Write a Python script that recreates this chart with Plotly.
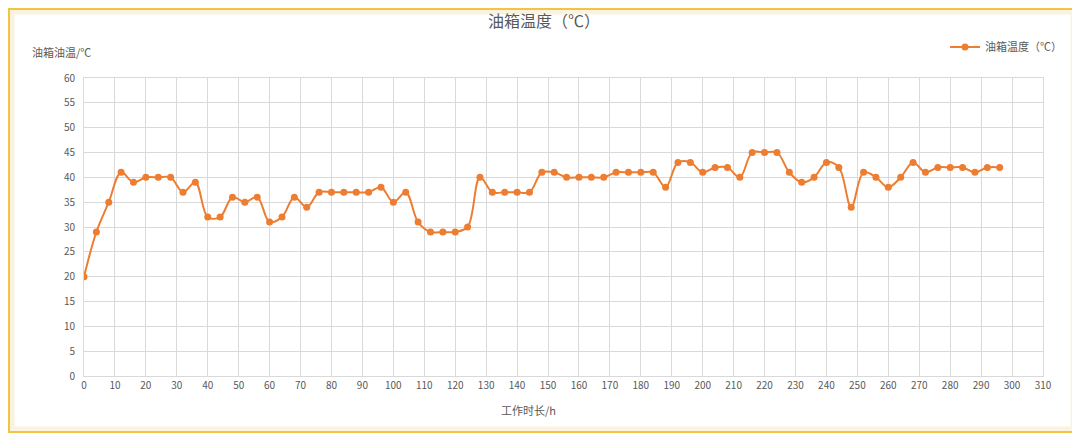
import plotly.graph_objects as go

# ---------------------------------------------------------------------
# Data: tank oil temperature over working hours
# ---------------------------------------------------------------------
hours = list(range(0, 300, 4))
oil_temp = [
    20, 29, 35, 41, 39, 40, 40, 40, 37, 39,
    32, 32, 36, 35, 36, 31, 32, 36, 34, 37,
    37, 37, 37, 37, 38, 35, 37, 31, 29, 29,
    29, 30, 40, 37, 37, 37, 37, 41, 41, 40,
    40, 40, 40, 41, 41, 41, 41, 38, 43, 43,
    41, 42, 42, 40, 45, 45, 45, 41, 39, 40,
    43, 42, 34, 41, 40, 38, 40, 43, 41, 42,
    42, 42, 41, 42, 42,
]
series_name = "油箱温度（℃）"
chart_title = "油箱温度（℃）"
y_title = "油箱油温/℃"
x_title = "工作时长/h"

# ---------------------------------------------------------------------
# Layout geometry (pixels, in page coordinates; the page body adds 8px)
# ---------------------------------------------------------------------
OFF = 8
W, H = 1080 - OFF, 434 - OFF
ML, MR, MT, MB = 84 - OFF, 37, 78 - OFF, 58
PW, PH = W - ML - MR, H - MT - MB


def px(x):
    return (x - OFF - ML) / PW


def py(y):
    return (OFF + H - MB - y) / PH


ORANGE = "#ED7D31"
TEXT = "#595959"
GRID = "#D9D9D9"
FONT = "Noto Sans CJK SC"

fig = go.Figure()
fig.add_trace(
    go.Scatter(
        x=hours,
        y=oil_temp,
        mode="lines+markers",
        name=series_name,
        line=dict(color=ORANGE, width=2, shape="spline", smoothing=1.0),
        marker=dict(color=ORANGE, size=7),
    )
)

fig.update_layout(
    width=W,
    height=H,
    margin=dict(l=ML, r=MR, t=MT, b=MB),
    paper_bgcolor="white",
    plot_bgcolor="white",
    font=dict(family=FONT, color=TEXT, size=11),
    title=dict(
        text=chart_title,
        x=0.5,
        xanchor="center",
        y=1 - (21 - OFF) / H,
        yanchor="middle",
        font=dict(size=16, color=TEXT, family=FONT),
    ),
    showlegend=True,
    legend=dict(
        x=px(1067),
        xanchor="right",
        y=py(47),
        yanchor="middle",
        font=dict(size=11, color=TEXT),
        bgcolor="rgba(0,0,0,0)",
        itemwidth=30,
    ),
)

fig.update_xaxes(
    range=[0, 310],
    dtick=10,
    tick0=0,
    showgrid=True,
    gridcolor=GRID,
    gridwidth=1,
    showline=True,
    linecolor=GRID,
    mirror=True,
    zeroline=False,
    ticks="",
    tickfont=dict(size=10, color=TEXT),
)
fig.update_yaxes(
    range=[0, 60],
    dtick=5,
    tick0=0,
    showgrid=True,
    gridcolor=GRID,
    gridwidth=1,
    showline=True,
    linecolor=GRID,
    mirror=True,
    zeroline=False,
    ticks="",
    ticklabelstandoff=6,
    tickfont=dict(size=10, color=TEXT),
)

# axis titles
fig.add_annotation(
    x=px(30), y=py(52), xref="paper", yref="paper",
    text=y_title, showarrow=False, xanchor="left", yanchor="middle",
    font=dict(size=11, color=TEXT),
)
fig.add_annotation(
    x=px(528), y=py(410), xref="paper", yref="paper",
    text=x_title, showarrow=False, xanchor="center", yanchor="middle",
    font=dict(size=11, color=TEXT),
)

# decorative frame around the picture
fig.add_shape(
    type="rect", xref="paper", yref="paper",
    x0=px(OFF + 4), x1=px(1073), y0=py(429), y1=py(OFF + 4),
    line=dict(color="#FBF3E0", width=5), fillcolor="rgba(0,0,0,0)", layer="below",
)
fig.add_shape(
    type="rect", xref="paper", yref="paper",
    x0=px(OFF + 1), x1=px(1077), y0=py(432), y1=py(OFF + 1),
    line=dict(color="#F2C443", width=2), fillcolor="rgba(0,0,0,0)", layer="below",
)

fig.write_html("out.html")
